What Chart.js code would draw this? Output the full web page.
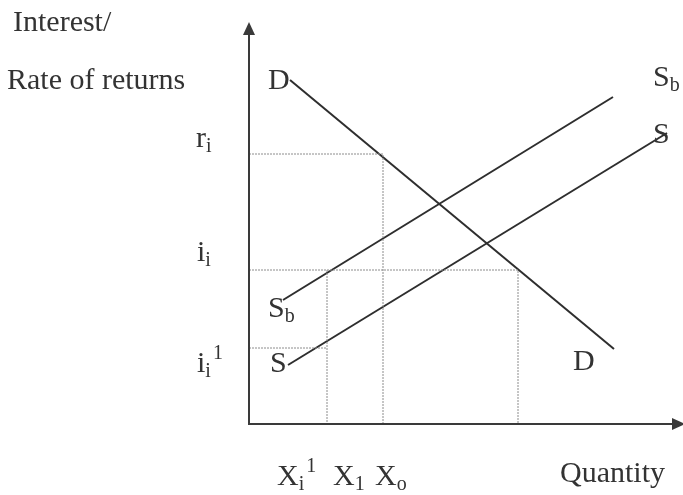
<!DOCTYPE html>
<html>
<head>
<meta charset="utf-8">
<script src="https://cdn.jsdelivr.net/npm/chart.js@4"></script>
<style>
  html, body { margin: 0; padding: 0; background: #fff; }
  canvas { display: block; }
</style>
</head>
<body>
<canvas id="chart" width="683" height="495"></canvas>
<script>
// axis extents (data units)
const X_MAX = 434;
const Y_MAX = 399;

// demand / supply curves
const demandX = [41, 365];
const demandY = [344, 75];
const supplyBX = [34, 364];
const supplyBY = [124, 327];
const supplyX = [39, 418];
const supplyY = [59, 291];

// dotted guide lines
const rGuideX = [0, 134, 134];
const rGuideY = [270, 270, 0];
const iGuideX = [0, 269, 269];
const iGuideY = [154, 154, 0];
const i1GuideX = [0, 78];
const i1GuideY = [76, 76];
const x1GuideX = [78, 78];
const x1GuideY = [154, 0];

// tick labels: [main, sub, sup]
const yTickLabels = [['r', 'i', ''], ['i', 'i', ''], ['i', 'i', '1']];
const yTickAt = [[-53, 277], [-52, 163], [-52, 52]];
const xTickLabels = [['X', 'i', '1'], ['X', '1', ''], ['X', 'o', '']];
const xTickAt = [[28, -61], [84, -61], [126, -61]];

// curve names
const curveLabels = [['D', '', ''], ['S', 'b', ''], ['S', '', ''], ['D', '', ''], ['S', 'b', ''], ['S', '', '']];
const curveLabelAt = [[19, 335], [19, 107], [21, 52], [324, 54], [404, 338], [404, 281]];

// axis titles
const axisTitles = ['Interest/', 'Rate of returns', 'Quantity'];
const axisTitleAt = [[-236, 393], [-242, 335], [311, -58]];

const INK = '#2e2e2e';
const GUIDE = '#8c8c8c';
const FONT = '"Liberation Serif", "Times New Roman", serif';

function pts(xs, ys) {
    return xs.map((x, i) => ({ x: x, y: ys[i] }));
}

function curve(xs, ys) {
    return { data: pts(xs, ys), showLine: true, borderColor: INK, borderWidth: 2, pointRadius: 0, fill: false };
}

function guide(xs, ys) {
    return { data: pts(xs, ys), showLine: true, borderColor: GUIDE, borderWidth: 1, borderDash: [2, 1], pointRadius: 0, fill: false };
}

// draws "main" + subscript + superscript, left aligned at baseline
function drawRich(ctx, parts, px, py) {
    const [main, sub, sup] = parts;
    ctx.font = '30px ' + FONT;
    ctx.fillText(main, px, py);
    let cx = px + ctx.measureText(main).width;
    ctx.font = '20px ' + FONT;
    if (sub) {
        ctx.fillText(sub, cx, py + 5);
        cx += ctx.measureText(sub).width + 2;
    }
    if (sup) {
        ctx.fillText(sup, cx, py - 13);
    }
}

const overlay = {
    id: 'overlay',
    afterDatasetsDraw(chart) {
        const ctx = chart.ctx;
        const xs = chart.scales.x;
        const ys = chart.scales.y;
        const X = v => xs.getPixelForValue(v);
        const Y = v => ys.getPixelForValue(v);

        ctx.save();
        // axes
        ctx.strokeStyle = '#3a3a3a';
        ctx.fillStyle = '#3a3a3a';
        ctx.lineWidth = 2;
        ctx.beginPath();
        ctx.moveTo(X(0), Y(0));
        ctx.lineTo(X(0), Y(Y_MAX) + 8);
        ctx.moveTo(X(0) - 1, Y(0));
        ctx.lineTo(X(X_MAX) - 8, Y(0));
        ctx.stroke();
        // arrowheads
        ctx.beginPath();
        ctx.moveTo(X(0), Y(Y_MAX) - 3);
        ctx.lineTo(X(0) - 6, Y(Y_MAX) + 10);
        ctx.lineTo(X(0) + 6, Y(Y_MAX) + 10);
        ctx.closePath();
        ctx.fill();
        ctx.beginPath();
        ctx.moveTo(X(X_MAX) + 2, Y(0));
        ctx.lineTo(X(X_MAX) - 11, Y(0) - 6);
        ctx.lineTo(X(X_MAX) - 11, Y(0) + 6);
        ctx.closePath();
        ctx.fill();

        // text
        ctx.fillStyle = '#333';
        ctx.textBaseline = 'alphabetic';
        ctx.textAlign = 'left';
        yTickLabels.forEach((p, i) => drawRich(ctx, p, X(yTickAt[i][0]), Y(yTickAt[i][1])));
        xTickLabels.forEach((p, i) => drawRich(ctx, p, X(xTickAt[i][0]), Y(xTickAt[i][1])));
        curveLabels.forEach((p, i) => drawRich(ctx, p, X(curveLabelAt[i][0]), Y(curveLabelAt[i][1])));
        ctx.font = '30px ' + FONT;
        axisTitles.forEach((t, i) => ctx.fillText(t, X(axisTitleAt[i][0]), Y(axisTitleAt[i][1])));
        ctx.restore();
    }
};

new Chart(document.getElementById('chart'), {
    type: 'scatter',
    data: {
        datasets: [
            guide(rGuideX, rGuideY),
            guide(iGuideX, iGuideY),
            guide(i1GuideX, i1GuideY),
            guide(x1GuideX, x1GuideY),
            curve(demandX, demandY),
            curve(supplyBX, supplyBY),
            curve(supplyX, supplyY)
        ]
    },
    options: {
        responsive: false,
        animation: false,
        layout: { padding: { left: 249, top: 25, right: 0, bottom: 71 } },
        plugins: { legend: { display: false }, tooltip: { enabled: false } },
        scales: {
            x: { type: 'linear', min: 0, max: X_MAX, display: false },
            y: { type: 'linear', min: 0, max: Y_MAX, display: false }
        }
    },
    plugins: [overlay]
});
</script>
</body>
</html>
